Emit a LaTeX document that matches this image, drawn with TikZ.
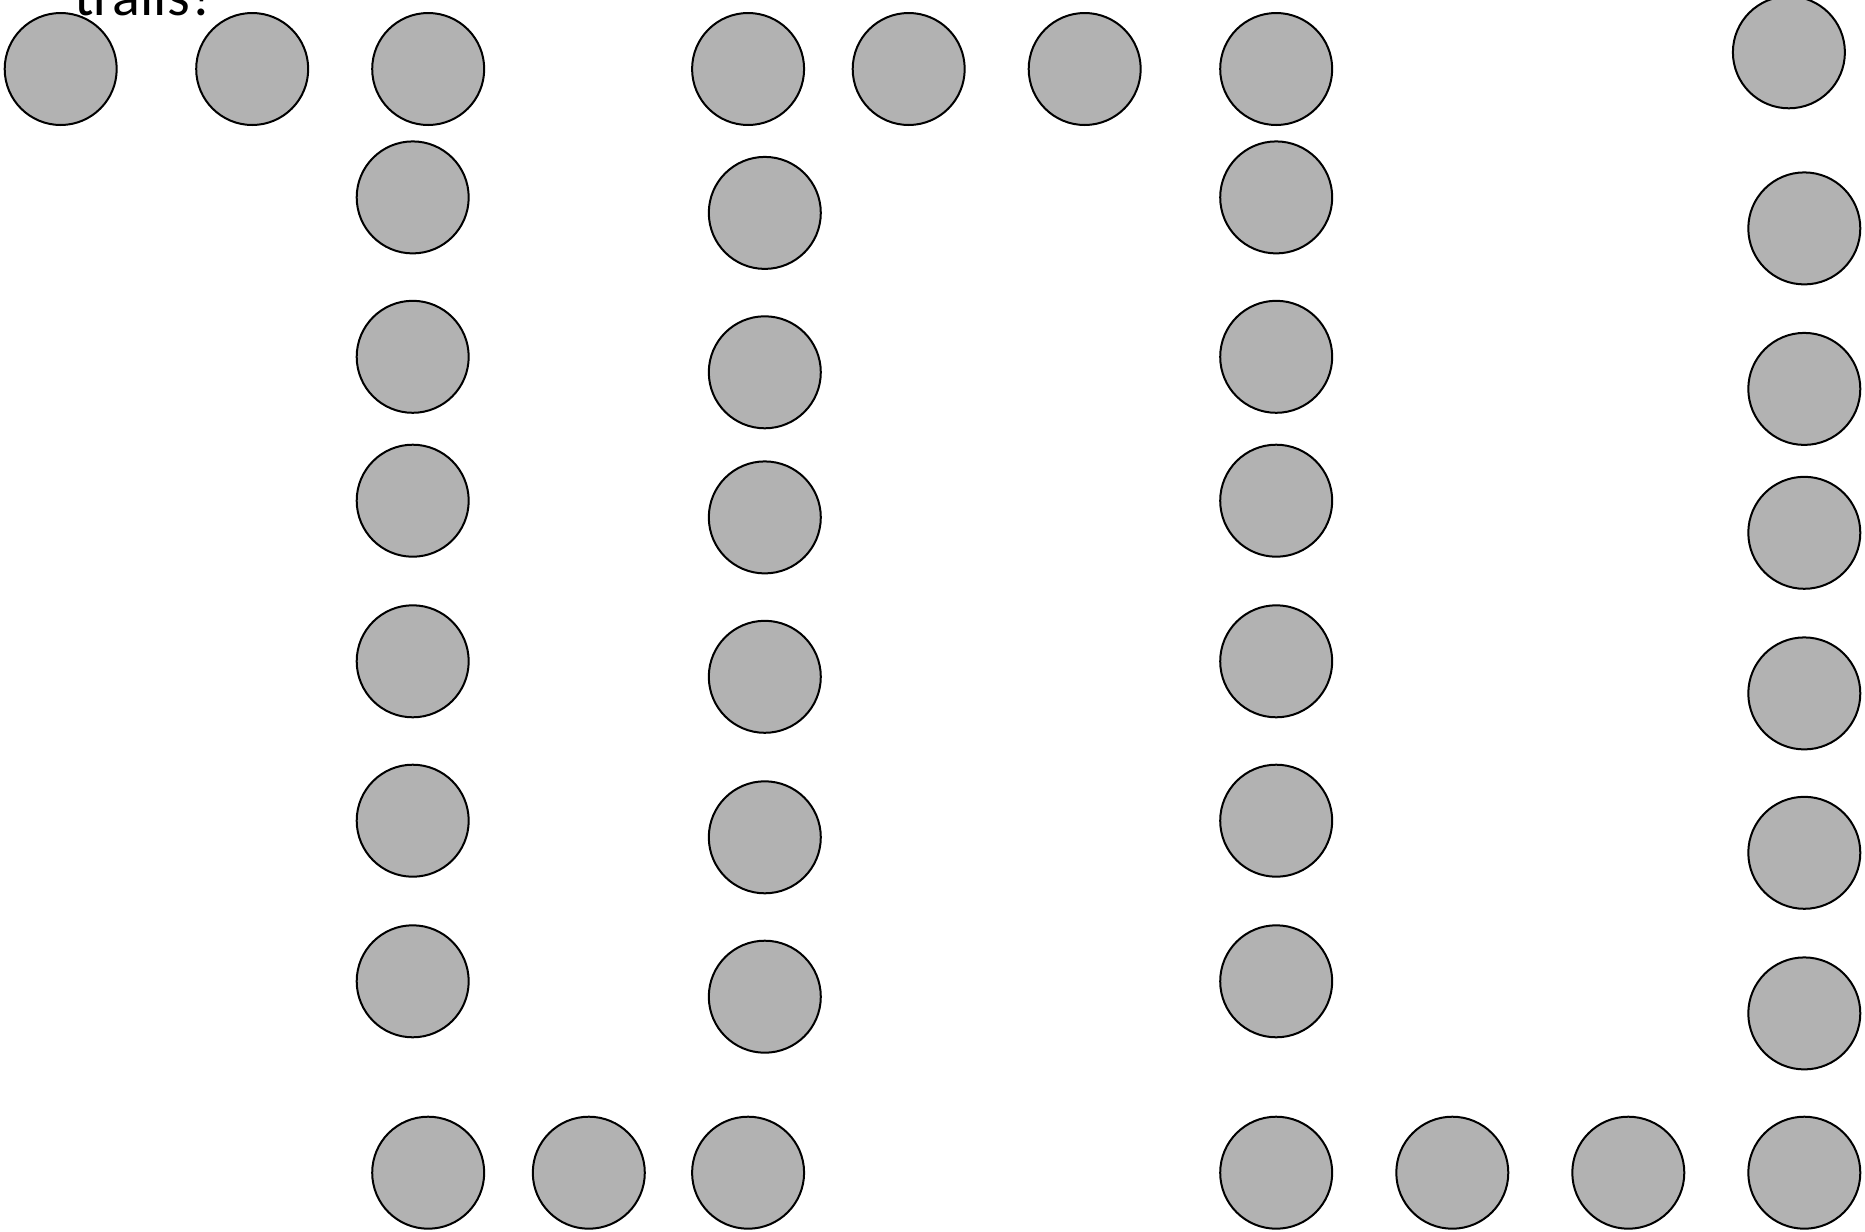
\documentclass[tikz,border=0pt]{standalone}
\usepackage{fontspec}
\setmainfont{Carlito}
\definecolor{dotfill}{RGB}{178,178,178}
\begin{document}
\begin{tikzpicture}[x=0.5pt,y=-0.5pt,
  dot/.style={circle,draw=black,fill=dotfill,line width=1pt,inner sep=0pt,minimum size=56pt}]
\useasboundingbox (0,0) rectangle (1865,1232);
% title (cut off at top, as in the reference)
\node[anchor=base west,inner sep=0pt,font=\fontsize{29pt}{34pt}\selectfont] (title) at (74,15) {trails?};
% top row
\foreach \x [count=\i] in {60.7,252.2,428.2,748.1,908.7,1084.7,1276.2}
  \node[dot] (top\i) at (\x,69) {};
\node[dot] (top8) at (1788.9,52.3) {};
% column 1
\foreach \y [count=\i] in {197.4,356.8,500.7,661.3,820.7,981.3}
  \node[dot] (ca\i) at (412.7,\y) {};
% column 2
\foreach \y [count=\i] in {212.9,372.3,517.4,676.8,837.3,996.7}
  \node[dot] (cb\i) at (764.8,\y) {};
% column 3
\foreach \y [count=\i] in {197.4,356.8,500.7,661.3,820.7,981.3}
  \node[dot] (cc\i) at (1276.2,\y) {};
% column 4
\foreach \y [count=\i] in {228.4,388.9,532.8,693.4,852.8,1013.4}
  \node[dot] (cd\i) at (1804.3,\y) {};
% bottom row
\foreach \x [count=\i] in {428.2,588.8,748.1,1276.2,1452.3,1628.3,1804.3}
  \node[dot] (bot\i) at (\x,1172.7) {};
\end{tikzpicture}
\end{document}
